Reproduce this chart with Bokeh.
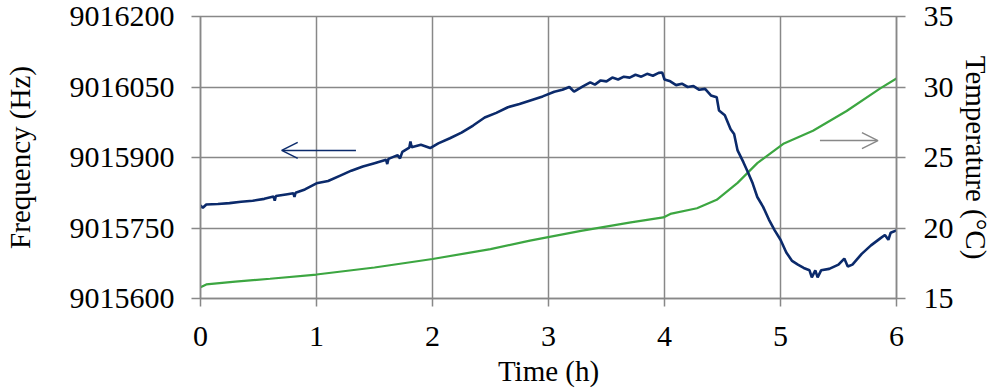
from bokeh.plotting import figure
from bokeh.models import (Range1d, LinearAxis, FixedTicker, BasicTickFormatter,
                          Arrow, OpenHead)
from bokeh.embed import file_html
from bokeh.resources import INLINE

# ---- data ----
freq_time = [0.00, 0.02, 0.05, 0.15, 0.25, 0.35, 0.45, 0.55, 0.63, 0.64, 0.65, 0.75,
             0.80, 0.81, 0.82, 0.90, 1.00, 1.10, 1.20, 1.30, 1.40, 1.50, 1.60, 1.61,
             1.62, 1.70, 1.72, 1.74, 1.80, 1.81, 1.82, 1.90, 1.98, 2.05, 2.15, 2.25,
             2.35, 2.45, 2.55, 2.65, 2.75, 2.85, 2.95, 3.05, 3.12, 3.18, 3.22, 3.30,
             3.36, 3.40, 3.45, 3.50, 3.55, 3.60, 3.65, 3.70, 3.75, 3.80, 3.85, 3.90,
             3.95, 3.98, 4.00, 4.05, 4.10, 4.15, 4.20, 4.25, 4.30, 4.35, 4.40, 4.45,
             4.47, 4.52, 4.57, 4.60, 4.63, 4.68, 4.72, 4.76, 4.80, 4.85, 4.90, 4.95,
             5.00, 5.05, 5.10, 5.15, 5.20, 5.25, 5.27, 5.30, 5.32, 5.35, 5.42, 5.50,
             5.55, 5.58, 5.62, 5.70, 5.78, 5.86, 5.90, 5.93, 5.95, 6.00]
freq_hz = [9015798, 9015793, 9015800, 9015801, 9015803, 9015806, 9015808, 9015812,
           9015817, 9015808, 9015818, 9015822, 9015824, 9015816, 9015825, 9015832,
           9015845, 9015850, 9015861, 9015872, 9015881, 9015888, 9015895, 9015886,
           9015897, 9015905, 9015898, 9015912, 9015921, 9015934, 9015922, 9015927,
           9015920, 9015930, 9015941, 9015953, 9015968, 9015985, 9015995, 9016007,
           9016014, 9016022, 9016030, 9016040, 9016044, 9016050, 9016040, 9016052,
           9016060, 9016055, 9016064, 9016062, 9016070, 9016066, 9016072, 9016070,
           9016076, 9016072, 9016078, 9016074, 9016080, 9016081, 9016066, 9016062,
           9016054, 9016057, 9016050, 9016052, 9016044, 9016046, 9016032, 9016028,
           9016000, 9015990, 9015960, 9015950, 9015915, 9015890, 9015868, 9015845,
           9015816, 9015795, 9015768, 9015745, 9015725, 9015698, 9015680, 9015672,
           9015665, 9015660, 9015645, 9015660, 9015645, 9015660, 9015663, 9015672,
           9015685, 9015668, 9015672, 9015695, 9015713, 9015728, 9015735, 9015725,
           9015740, 9015745]

temp_time = [0.00, 0.05, 0.30, 0.60, 1.00, 1.50, 2.00, 2.50, 2.84, 3.28, 3.71, 3.99,
             4.05, 4.28, 4.45, 4.63, 4.80, 5.03, 5.28, 5.57, 5.86, 6.00]
temp_c = [15.8, 16.0, 16.2, 16.4, 16.7, 17.2, 17.8, 18.5, 19.1, 19.8, 20.4, 20.75,
          21.0, 21.4, 22.0, 23.2, 24.6, 26.0, 26.9, 28.3, 29.9, 30.6]

x_ticks = [0, 1, 2, 3, 4, 5, 6]
freq_ticks = [9015600, 9015750, 9015900, 9016050, 9016200]
temp_ticks = [15, 20, 25, 30, 35]

NAVY = "#0b2a6b"
GREEN = "#3ca641"
GRAY = "#888888"
FONT = "Liberation Serif"
TICK_FS = "30px"
TITLE_FS = "29px"

p = figure(width=1000, height=391, output_backend="svg", toolbar_location=None,
           x_range=Range1d(0, 6), y_range=Range1d(9015600, 9016200),
           min_border_left=200, min_border_right=104, min_border_top=16,
           min_border_bottom=93)
p.extra_y_ranges = {"temp": Range1d(15, 35)}

p.outline_line_color = GRAY
p.outline_line_width = 1.5
p.background_fill_color = "white"
p.border_fill_color = "white"

for g in (p.xgrid[0], p.ygrid[0]):
    g.grid_line_color = GRAY
    g.grid_line_width = 1.5
p.xgrid[0].ticker = FixedTicker(ticks=x_ticks)
p.ygrid[0].ticker = FixedTicker(ticks=freq_ticks)

def style_axis(ax, standoff, label_standoff, tick_out=9):
    ax.axis_line_color = GRAY
    ax.axis_line_width = 1.5
    ax.major_tick_line_color = GRAY
    ax.major_tick_line_width = 1.5
    ax.major_tick_in = 0
    ax.major_tick_out = tick_out
    ax.minor_tick_line_color = None
    ax.major_label_text_font = FONT
    ax.major_label_text_font_size = TICK_FS
    ax.major_label_text_color = "black"
    ax.axis_label_text_font = FONT
    ax.axis_label_text_font_size = TITLE_FS
    ax.axis_label_text_font_style = "normal"
    ax.axis_label_text_color = "black"
    ax.major_label_standoff = standoff
    ax.axis_label_standoff = label_standoff

xa = p.xaxis[0]
xa.ticker = FixedTicker(ticks=x_ticks)
xa.axis_label = "Time (h)"
style_axis(xa, 20, 6, 8)

ya = p.yaxis[0]
ya.ticker = FixedTicker(ticks=freq_ticks)
ya.formatter = BasicTickFormatter(use_scientific=False)
ya.axis_label = "Frequency (Hz)"
style_axis(ya, 17, 31)

ra = LinearAxis(y_range_name="temp", ticker=FixedTicker(ticks=temp_ticks),
                axis_label="Temperature (°C)")
style_axis(ra, 18, 3, 9)
p.add_layout(ra, "right")

p.line(temp_time, temp_c, y_range_name="temp", line_color=GREEN, line_width=2.2)
p.line(freq_time, freq_hz, line_color=NAVY, line_width=2.6)

p.add_layout(Arrow(end=OpenHead(size=16, line_color=NAVY, line_width=1.5),
                   x_start=1.34, y_start=9015915, x_end=0.70, y_end=9015915,
                   line_color=NAVY, line_width=1.5))
p.add_layout(Arrow(end=OpenHead(size=16, line_color=GRAY, line_width=1.5),
                   x_start=5.34, y_start=26.2, x_end=5.84, y_end=26.2,
                   y_range_name="temp", line_color=GRAY, line_width=1.5))

open("out.html", "w").write(file_html(p, INLINE))
